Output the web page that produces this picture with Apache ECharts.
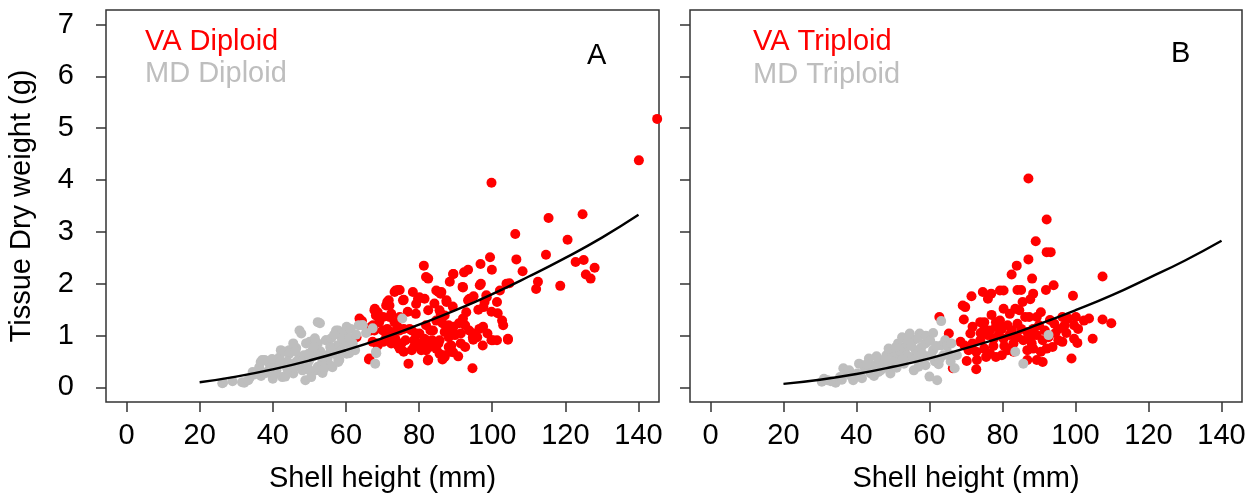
<!DOCTYPE html>
<html>
<head>
<meta charset="utf-8">
<script src="https://cdn.jsdelivr.net/npm/echarts@6/dist/echarts.min.js"></script>
<style>
  html, body { margin: 0; padding: 0; background: #fff; }
  #chartmain { width: 1253px; height: 500px; }
</style>
</head>
<body>
<div id="chartmain"></div>
<script>
// tick positions
var xTicks = [0, 20, 40, 60, 80, 100, 120, 140];
var yTicks = [0, 1, 2, 3, 4, 5, 6, 7];

// panel A: VA diploid (red), MD diploid (gray)  [shell height mm, dry weight g]
var vaDiploid = [
    [99.8,3.95],[140.1,4.38],[145.1,5.18],[115.4,3.27],[124.7,3.34],[106.3,2.96],[120.6,2.85],
    [99.4,2.51],[106.6,2.47],[114.7,2.56],[99.9,2.27],[96.8,2.38],[108.3,2.24],[122.8,2.42],
    [125,2.46],[128,2.31],[125.6,2.18],[126.9,2.10],[104.7,2.01],[112.5,2.04],[112,1.90],
    [118.6,1.96],[81.3,2.35],[81.9,2.13],[82.5,2.10],[89.4,2.19],[92.3,2.22],[93.4,2.27],
    [88.4,2.04],[91.9,1.94],[96.9,2.0],[98.5,1.74],[94.9,1.76],[93.4,1.68],[101.3,1.65],
    [99.8,1.46],[101.5,1.43],[97.6,1.55],[96.2,1.50],[102.7,1.29],[103,1.20],[104.3,0.92],
    [99.8,0.91],[101.3,0.91],[97.4,0.81],[94.6,0.37],[90.7,0.60],[87,0.59],[86.4,0.54],
    [82.5,0.54],[77.1,0.46],[66.3,0.54],[62.9,0.97],[64.4,1.28],[67.9,1.52],[68.2,1.39],
    [71.3,1.65],[71.9,1.58],[73.6,1.87],[74.7,1.88],[75.8,1.69],[78.3,1.84],[79.7,1.71],
    [79.2,1.61],[85.3,1.84],[85.9,1.81],[87.5,1.68],[84.2,1.62],[89.2,1.56],[85.9,1.42],
    [87.0,1.39],[82.5,1.49],[79.1,1.42],[76.9,1.46],[74.7,1.36],[72.4,1.42],[70.2,1.36],
    [69.1,1.26],[67.4,1.20],[65.7,1.13],[66.8,1.10],[71.3,1.13],[72.4,1.07],[74.1,1.17],
    [75.8,1.13],[78.0,1.10],[79.1,1.04],[81.9,1.20],[83.1,1.10],[84.7,1.29],[86.4,1.24],
    [88.1,1.20],[89.4,1.17],[90.9,1.24],[92.6,1.20],[93.7,1.10],[94.8,1.04],[96.5,1.13],
    [98.7,1.04],[91.4,1.04],[89.8,1.01],[88.1,0.97],[87.0,1.07],[83.6,0.91],[85.3,0.85],
    [81.4,0.94],[79.7,0.85],[78.6,0.78],[76.3,0.91],[75.2,0.85],[73.5,0.94],[72.4,0.85],
    [70.2,0.88],[68.5,0.85],[74.7,0.75],[75.8,0.69],[78.0,0.72],[80.8,0.78],[81.9,0.72],
    [84.7,0.75],[88.1,0.78],[88.6,0.69],[91.4,0.85],[92.6,0.78],[94.8,0.92],[95.9,0.97],
    [78.6,0.91],[71.3,1.01],[74.2,1.88],[73.3,1.84],[84.7,1.87],[86.1,1.84],[89.3,2.19],
    [92.0,1.93],[96.6,1.97],[98.4,1.78],[97.9,1.65],[93.8,1.71],[102.1,1.87],[103.9,2.0],
    [71.7,1.68],[71.0,1.58],[67.8,1.49],[68.7,1.45],[75.6,1.68],[80.1,1.74],[81.5,1.71],
    [87.5,1.65],[85.6,1.49],[71.9,1.36],[73.3,1.26],[63.7,1.33],[66.9,1.17],[67.8,1.10],
    [70.1,1.10],[71.0,0.97],[74.2,0.81],[74.7,1.10],[77.4,1.13],[80.1,1.04],[82.0,0.91],
    [83.8,1.10],[85.6,0.91],[87.5,1.17],[89.3,1.07],[92.0,1.33],[92.9,1.45],[94.7,0.97],
    [97.5,1.17],[100.2,0.91],[104.3,0.94],[82.4,0.52],[85.6,0.65],[87.0,0.62],[88.8,0.81],
    [89.3,0.68],[66.4,0.56],[80.6,0.72],[82.9,0.78],[78.8,0.91],[67.3,0.88],[68.7,0.81]
];
var mdDiploid = [
    [26.2,0.08],[31.6,0.10],[33.6,0.18],[36.3,0.39],[37.1,0.53],[39.0,0.47],[38.2,0.28],
    [41.0,0.33],[41.8,0.58],[43.6,0.43],[42.6,0.20],[44.5,0.72],[46.4,0.76],[47.3,1.10],
    [47.3,0.58],[48.1,0.33],[49.1,0.85],[50.0,0.53],[50.9,0.72],[52.3,1.26],[51.8,0.33],
    [53.6,0.28],[54.6,0.91],[55.5,0.66],[56.3,0.39],[57.3,1.10],[57.7,0.81],[58.2,0.53],
    [60.1,1.10],[60.9,0.66],[61.8,0.85],[64.5,1.20],[67.3,1.14],[68.3,0.66],[75.4,1.33],
    [26.4,0.09],[32.2,0.09],[33.3,0.14],[36.7,0.49],[37.8,0.53],[42.2,0.72],[43.4,0.69],
    [47.8,1.04],[52.9,1.24],[57.9,1.10],[59.0,1.04],[60.2,1.17],[50.1,0.88],[52.3,0.85],
    [54.5,0.91],[55.7,0.78],[56.8,0.65],[57.9,0.56],[45.6,0.85],[44.5,0.65],[38.9,0.33],
    [41.1,0.40],[40.0,0.17],[43.4,0.21],[48.9,0.14],[45.6,0.27],[50.1,0.33],[52.3,0.40],
    [54.5,0.46],[57.9,0.49],[60.2,0.65],[61.8,0.85],[63.5,1.20],[68.0,0.46],[68.2,0.69],
    [64.6,1.20],[61.3,1.13],[35.0,0.25],[39.5,0.40],[46.5,0.50],[48.5,0.62],[51.0,0.60],
    [53.0,0.70],[55.0,0.55],[56.0,0.95],[58.5,0.70],[49.5,0.45],[47.0,0.40],[44.0,0.50],
    [53.5,0.48],[59.5,0.85],[62.5,0.72],[40.5,0.25],[45.0,0.35],[51.5,0.95],[55.8,0.42],
    [29.0,0.12],[34.5,0.30],[36.8,0.22],[39.8,0.55],[42.0,0.50],[44.0,0.35],[46.2,0.70],
    [48.0,0.50],[49.8,0.65],[51.2,0.78],[53.2,0.60],[54.0,0.36],[56.0,0.72],[58.8,0.95],
    [59.8,0.75],[61.0,0.95],[62.8,1.02],[65.5,1.05],[56.8,1.02],[50.5,0.20]
];
// panel B: VA triploid (red), MD triploid (gray)
var vaTriploid = [
    [87.1,4.03],[92.1,3.24],[89.1,2.82],[92.1,2.61],[93.2,2.61],[87.1,2.47],[83.9,2.35],
    [82.5,2.18],[88.1,2.10],[94.0,1.97],[107.4,2.14],[84.1,1.88],[85.1,1.88],[79.3,1.87],
    [80.3,1.87],[74.6,1.84],[76.9,1.81],[76.0,1.71],[71.5,1.76],[88.4,1.81],[87.6,1.70],
    [91.9,1.88],[99.3,1.77],[69.1,1.58],[69.8,1.55],[62.7,1.36],[69.4,1.31],[73.9,1.26],
    [75.0,1.26],[78.2,1.26],[79.3,1.29],[80.3,1.52],[83.5,1.52],[84.6,1.49],[86.2,1.36],
    [87.3,1.36],[89.4,1.36],[96.4,1.36],[98.0,1.33],[100.1,1.36],[102.3,1.29],[103.7,1.33],
    [107.4,1.31],[109.8,1.24],[71.8,1.17],[71.2,1.04],[75.0,1.13],[76.6,1.10],[78.2,1.17],
    [79.8,1.13],[81.4,1.20],[82.5,1.10],[84.1,1.23],[85.1,1.13],[86.8,1.07],[88.4,1.13],
    [90.0,1.20],[91.6,1.10],[94.2,1.23],[95.3,1.13],[99.6,1.20],[100.7,1.13],[65.3,1.04],
    [68.5,0.88],[69.6,0.81],[71.8,0.85],[73.9,0.91],[76.0,1.01],[77.6,0.94],[80.3,0.94],
    [81.9,1.01],[84.1,0.97],[85.7,0.91],[87.8,0.97],[89.4,1.01],[91.0,0.91],[92.6,0.97],
    [95.3,0.91],[96.4,0.88],[99.6,0.94],[100.5,0.86],[104.7,0.94],[70.7,0.72],[72.8,0.69],
    [75.0,0.75],[76.6,0.65],[78.2,0.59],[79.8,0.62],[81.4,0.72],[83.0,0.69],[86.8,0.72],
    [88.4,0.75],[90.5,0.69],[92.1,0.75],[93.7,0.78],[98.9,0.56],[73.0,0.53],[75.5,0.59],
    [89.4,0.53],[91.0,0.49],[86.8,0.53],[72.8,0.35],[70.2,0.51],[66.4,0.37],[77.0,1.40],
    [82.0,1.42],[85.5,1.65],[90.5,1.45],[93.0,1.30],[97.0,1.20],[83.0,0.85],[88.0,0.85],
    [77.5,0.80],[80.5,0.80],[94.5,1.05],[97.5,1.05],[74.0,1.05],[79.0,1.02]
];
var mdTriploid = [
    [30.5,0.11],[32.1,0.14],[34.3,0.09],[36.4,0.37],[37.5,0.27],[39.1,0.14],[40.2,0.27],
    [42.3,0.37],[43.9,0.27],[46.1,0.53],[46.6,0.33],[48.2,0.62],[49.3,0.43],[51.4,0.85],
    [51.9,0.56],[53.6,0.78],[54.6,0.59],[55.7,0.91],[56.2,0.72],[57.3,1.04],[57.8,0.53],
    [58.9,0.85],[60.0,0.21],[61.0,0.72],[62.1,0.14],[63.2,1.28],[64.3,0.91],[65.3,0.65],
    [66.9,0.37],[83.5,0.69],[85.7,0.46],[92.6,1.01],[63.2,0.81],[45.0,0.43],[50.3,0.65],
    [52.5,0.97],[54.6,1.04],[57.8,0.78],[40.7,0.46],[43.4,0.56],[31.1,0.17],[58.9,0.43],
    [60.5,0.62],[55.7,0.33],[49.3,0.27],[53.0,0.46],[35.5,0.20],[38.0,0.33],[47.5,0.45],
    [52.0,0.70],[56.5,0.55],[59.5,0.60],[61.5,0.50],[44.5,0.40],[48.8,0.75],[54.0,0.88],
    [33.0,0.12],[36.0,0.15],[38.5,0.22],[41.5,0.18],[42.8,0.45],[44.8,0.22],[46.0,0.30],
    [47.8,0.55],[50.0,0.50],[51.0,0.38],[53.8,0.62],[55.0,0.80],[56.8,0.95],[58.0,0.65],
    [59.0,1.00],[60.2,0.90],[61.8,0.80],[62.5,0.45],[63.8,0.62],[64.8,0.80],[57.0,0.40],
    [52.8,0.55],[48.0,0.38],[45.5,0.60],[50.8,0.78],[61.0,1.05],[62.8,0.55],[65.8,0.50],
    [67.5,0.62],[66.0,0.85]
];
// fitted curves
var fitX = [20, 30, 40, 50, 60, 70, 80, 90, 100, 110, 120, 130, 140];
var fitDiploid = [0.10, 0.21, 0.35, 0.52, 0.72, 0.95, 1.21, 1.49, 1.80, 2.14, 2.50, 2.89, 3.33];
var fitTriploid = [0.07, 0.15, 0.26, 0.40, 0.56, 0.76, 0.97, 1.22, 1.49, 1.78, 2.11, 2.45, 2.83];

var font = 'Arial, "Liberation Sans", sans-serif';
var fs = 29;

function pairs(xs, ys) {
    var out = [];
    for (var i = 0; i < xs.length; i++) out.push([xs[i], ys[i]]);
    return out;
}

function xAxisFor(idx) {
    return {
        type: 'value', gridIndex: idx, min: -5.6, max: 145.6,
        name: 'Shell height (mm)', nameLocation: 'middle', nameGap: 62, nameMoveOverlap: false,
        nameTextStyle: { fontSize: fs, color: '#000', fontFamily: font },
        axisLine: { show: false, onZero: false },
        splitLine: { show: false },
        axisTick: { show: true, inside: false, length: 10, customValues: xTicks, lineStyle: { color: '#333', width: 1.5 } },
        axisLabel: { customValues: xTicks, fontSize: fs, color: '#000', fontFamily: font, margin: 19 }
    };
}
function yAxisFor(idx, withLabels) {
    return {
        type: 'value', gridIndex: idx, min: -0.28, max: 7.28,
        name: withLabels ? 'Tissue Dry weight (g)' : '', nameLocation: 'middle', nameGap: 70, nameMoveOverlap: false,
        nameTextStyle: { fontSize: fs, color: '#000', fontFamily: font },
        axisLine: { show: false, onZero: false },
        splitLine: { show: false },
        axisTick: { show: true, inside: false, length: 10, customValues: yTicks, lineStyle: { color: '#333', width: 1.5 } },
        axisLabel: { show: withLabels, customValues: yTicks, fontSize: fs, color: '#000', fontFamily: font, margin: 32 }
    };
}
function dots(data, color, idx) {
    return {
        type: 'scatter', xAxisIndex: idx, yAxisIndex: idx, data: data,
        symbol: 'circle', symbolSize: 10, itemStyle: { color: color, opacity: 1 }
    };
}
function fitLine(ys, idx) {
    return {
        type: 'line', xAxisIndex: idx, yAxisIndex: idx, data: pairs(fitX, ys),
        smooth: true, showSymbol: false, symbol: 'none',
        lineStyle: { color: '#000', width: 2.4 }, z: 5
    };
}

var option = {
    animation: false,
    backgroundColor: '#fff',
    grid: [
        { left: 106, top: 10, width: 553, height: 392, show: true, borderColor: '#333', borderWidth: 1.5 },
        { left: 690, top: 10, width: 552, height: 392, show: true, borderColor: '#333', borderWidth: 1.5 }
    ],
    xAxis: [xAxisFor(0), xAxisFor(1)],
    yAxis: [yAxisFor(0, true), yAxisFor(1, false)],
    series: [
        dots(vaDiploid, '#ff0000', 0),
        dots(mdDiploid, '#bebebe', 0),
        fitLine(fitDiploid, 0),
        dots(vaTriploid, '#ff0000', 1),
        dots(mdTriploid, '#bebebe', 1),
        fitLine(fitTriploid, 1)
    ],
    graphic: [
        { type: 'text', left: 145, top: 27, style: { text: 'VA Diploid', fill: '#ff0000', font: fs + 'px ' + font } },
        { type: 'text', left: 145, top: 59, style: { text: 'MD Diploid', fill: '#bebebe', font: fs + 'px ' + font } },
        { type: 'text', left: 587, top: 41, style: { text: 'A', fill: '#000', font: fs + 'px ' + font } },
        { type: 'text', left: 753, top: 27, style: { text: 'VA Triploid', fill: '#ff0000', font: fs + 'px ' + font } },
        { type: 'text', left: 753, top: 60, style: { text: 'MD Triploid', fill: '#bebebe', font: fs + 'px ' + font } },
        { type: 'text', left: 1171, top: 39, style: { text: 'B', fill: '#000', font: fs + 'px ' + font } }
    ]
};

var myChart = echarts.init(document.getElementById('chartmain'));
myChart.setOption(option);
</script>
</body>
</html>
